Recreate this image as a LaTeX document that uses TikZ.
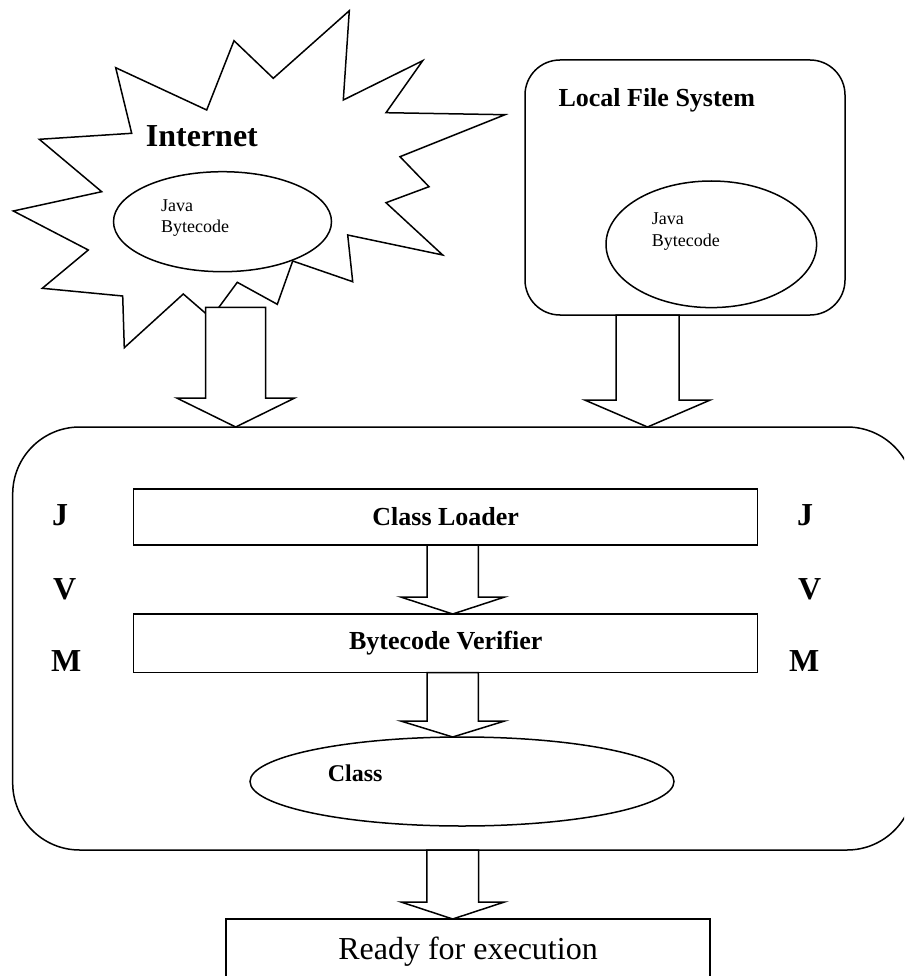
\documentclass[tikz,border=0pt]{standalone}
\usepackage{fontspec}
\setmainfont{Liberation Serif}
\usetikzlibrary{shapes.geometric,calc}

% Hollow block arrow: #1 start, #2 tip, #3 shaft half width,
% #4 head half width, #5 head length (all in pt)
\newcommand\fatarrow[5]{%
  \draw[fatarrow] let \p1=#1, \p2=#2 in
    (\x2-#3pt,\y1) -- (\x2-#3pt,\y2+#5pt) -- (\x2-#4pt,\y2+#5pt) -- (\x2,\y2)
    -- (\x2+#4pt,\y2+#5pt) -- (\x2+#3pt,\y2+#5pt) -- (\x2+#3pt,\y1) -- cycle;}

\tikzset{
  outline/.style={draw, line width=1.5pt, fill=white},
  panel/.style={outline, inner sep=0pt, outer sep=0pt},
  stage/.style={panel, rectangle, font=\fontsize{26}{31}\selectfont\bfseries},
  blob/.style={panel, ellipse},
  fatarrow/.style={outline, line join=miter},
  small/.style={inner sep=0pt, anchor=base west, align=left},
  heading/.style={inner sep=0pt, anchor=base west, font=\fontsize{32}{38}\selectfont\bfseries},
  title/.style={inner sep=0pt, anchor=base west, font=\fontsize{26}{31}\selectfont\bfseries},
}

\begin{document}
\begin{tikzpicture}[x=1pt, y=-1pt]
\useasboundingbox (0,0) rectangle (904,976);
\clip (0,0) rectangle (904,976);

% Internet burst
\draw[outline] (349.3,10.7) -- (343.3,100) -- (422.7,60.7) -- (386,112.7)
  -- (505,114.7) -- (400,156.7) -- (429,186.7) -- (386,202.7) -- (442.7,255)
  -- (347.7,235) -- (352.7,281.7) -- (292.7,261) -- (277.3,304.3)
  -- (237.3,282.3) -- (211,318) -- (183.3,294) -- (124.3,347.7)
  -- (122.7,296) -- (42.3,288.3) -- (88.3,250) -- (13.3,211) -- (101.7,191.7)
  -- (39.3,139.3) -- (131.7,133.3) -- (115.7,67.7) -- (206.7,110)
  -- (234,40.7) -- (273.3,78.3) -- cycle;
\node[heading] (internet) at (145.7,146.7) {Internet};
\node[blob, minimum width=218pt, minimum height=100pt] (netcode) at (222.5,221.7) {};
% base anchor of a two-line node sits on its last line
\node[small, font=\fontsize{18}{21}\selectfont] (netjava) at (161,232.7) {Java\\Bytecode};

% Local file system
\node[panel, rounded corners=35pt, minimum width=320pt, minimum height=255pt] (lfs) at (685,187.5) {};
\node[title] (lfstitle) at (558.3,106.7) {Local File System};
\node[blob, minimum width=210.6pt, minimum height=126.6pt] (lfscode) at (711.3,244.3) {};
\node[small, font=\fontsize{18}{22}\selectfont] (lfsjava) at (651.7,247) {Java\\Bytecode};

% Java virtual machine
\node[panel, rounded corners=67pt, minimum width=901.3pt, minimum height=423pt] (jvm) at (463.35,638.5) {};
\node[stage, minimum width=624pt, minimum height=56pt] (loader) at (445.7,517) {Class Loader};
\node[stage, minimum width=624pt, minimum height=58.5pt] (verifier) at (445.7,643.25) {Bytecode Verifier};
\node[blob, minimum width=424pt, minimum height=89pt] (cls) at (462,781.5) {};
\node[inner sep=0pt, anchor=base west, font=\fontsize{24}{29}\selectfont\bfseries] (clstext) at (327.7,781) {Class};

\node[heading] (lj) at (52,525) {J};
\node[heading] (lv) at (53,599) {V};
\node[heading] (lm) at (51,671) {M};
\node[heading] (rj) at (797,525) {J};
\node[heading] (rv) at (798,599) {V};
\node[heading] (rm) at (789,671) {M};

% Output
\node[panel, minimum width=484pt, minimum height=66pt, font=\fontsize{32}{38}\selectfont] (ready) at (468,952) {Ready for execution};

% Flow arrows
\coordinate (netout) at (235.7,307.3);
\coordinate (lfsout) at (647.5,0);
\coordinate (chute) at (452.7,0);
\fatarrow{(netout)}{(netout |- jvm.north)}{30}{59}{29}
\fatarrow{(lfsout |- lfs.south)}{(lfsout |- jvm.north)}{31.5}{62.8}{27}
\fatarrow{(chute |- loader.south)}{(chute |- verifier.north)}{25.7}{52}{17}
\fatarrow{(chute |- verifier.south)}{(chute |- cls.north)}{25.7}{52}{16}
\fatarrow{(chute |- jvm.south)}{(chute |- ready.north)}{25.8}{51.7}{17}
\end{tikzpicture}
\end{document}
